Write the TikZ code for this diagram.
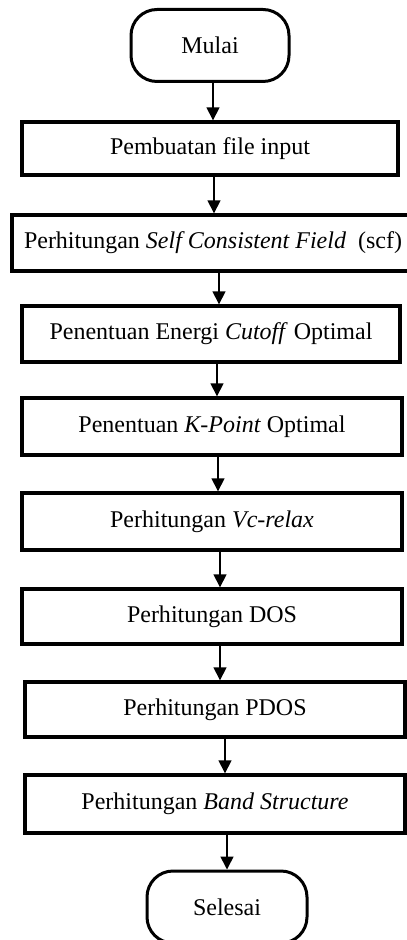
\documentclass[tikz,border=0pt]{standalone}
\usepackage{fontspec}
\setmainfont{Liberation Serif}
\usepackage{xcolor}
\definecolor{garis}{HTML}{000000}
\usepackage{tikz}
\usetikzlibrary{positioning,arrows.meta}

\begin{document}
\begin{tikzpicture}[x=0.5pt, y=-0.5pt,
    proses/.style={draw=garis, line width=1.7pt, rectangle, minimum height=28pt,
                   inner sep=0pt, font=\fontsize{12}{14}\selectfont},
    terminal/.style={draw=garis, line width=1.5pt, rectangle, rounded corners=13pt,
                     minimum width=79pt, minimum height=36pt, font=\fontsize{12}{14}\selectfont},
    panah/.style={-{Triangle[length=6.5pt, width=6.5pt]}, line width=0.8pt, draw=garis}]
  \useasboundingbox (0,0) rectangle (406,940);
  % terminator dan proses
  \node[terminal] (mulai) at (210,45.5) {Mulai};
  \node[proses, minimum width=188pt, minimum height=26.5pt] (input) at (210,148.5) {Pembuatan file input};
  \node[proses, minimum width=201pt] (scf) at (213,243) {Perhitungan \textit{Self Consistent Field}\ \ (scf)};
  \node[proses, minimum width=189pt] (cutoff) at (211,334) {Penentuan Energi \textit{Cutoff} Optimal};
  \node[proses, minimum width=190pt, minimum height=28.5pt] (kpoint) at (212,426.5) {Penentuan \textit{K-Point} Optimal};
  \node[proses, minimum width=190pt, minimum height=28.5pt] (vcrelax) at (212,521.5) {Perhitungan \textit{Vc-relax}};
  \node[proses, minimum width=190pt, minimum height=27.5pt] (dos) at (212,616.5) {Perhitungan DOS};
  \node[proses, minimum width=190pt, minimum height=27.5pt] (pdos) at (215,709.5) {Perhitungan PDOS};
  \node[proses, minimum width=190pt, minimum height=29pt] (band) at (215,804) {Perhitungan \textit{Band Structure}};
  \node[terminal, minimum width=80pt] (selesai) at (227,907) {Selesai};
  % alur
  \draw[panah] ([xshift=1.5pt]mulai.south) -- ([xshift=1.5pt]mulai.south |- input.north);
  \draw[panah] ([xshift=2pt]input.south) -- ([xshift=2pt]input.south |- scf.north);
  \draw[panah] ([xshift=3pt]scf.south) -- ([xshift=3pt]scf.south |- cutoff.north);
  \draw[panah] ([xshift=3pt]cutoff.south) -- ([xshift=3pt]cutoff.south |- kpoint.north);
  \draw[panah] ([xshift=3pt]kpoint.south) -- ([xshift=3pt]kpoint.south |- vcrelax.north);
  \draw[panah] ([xshift=4pt]vcrelax.south) -- ([xshift=4pt]vcrelax.south |- dos.north);
  \draw[panah] ([xshift=4pt]dos.south) -- ([xshift=4pt]dos.south |- pdos.north);
  \draw[panah] ([xshift=5pt]pdos.south) -- ([xshift=5pt]pdos.south |- band.north);
  \draw[panah] (selesai.north |- band.south) -- (selesai.north);
\end{tikzpicture}
\end{document}
